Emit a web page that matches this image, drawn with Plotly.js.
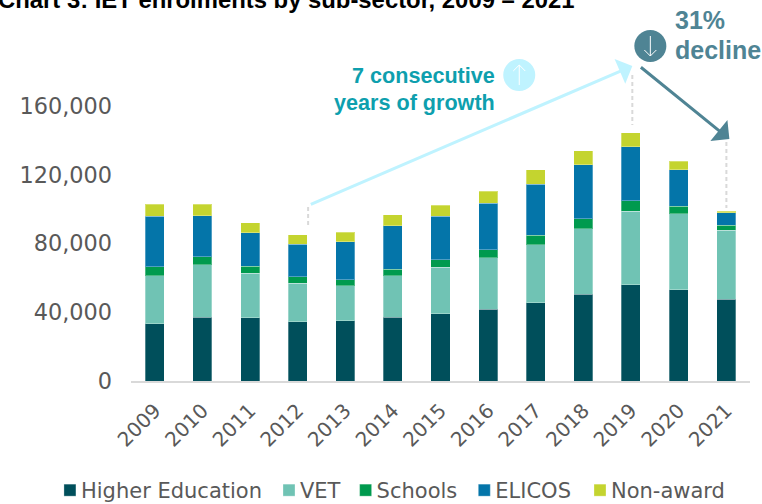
<!DOCTYPE html>
<html>
<head>
<meta charset="utf-8">
<script src="https://cdn.plot.ly/plotly-3.0.1.min.js"></script>
<style>html,body{margin:0;padding:0;background:#fff;overflow:hidden}</style>
</head>
<body>
<div id="chart" style="width:762px;height:504px"></div>
<script>
const years = ['2009','2010','2011','2012','2013','2014','2015','2016','2017','2018','2019','2020','2021'];
const higherEducation = [33200,37200,36700,34500,35000,37200,39000,41700,45400,50400,55900,53000,47700];
const vet = [28100,30300,26000,22500,20300,24100,27300,29900,33800,38100,43000,44400,40000];
const schools = [5200,4700,4000,3700,3700,3700,4300,4800,5600,6000,5900,4400,2900];
const elicos = [29500,24000,19600,19000,22100,25200,25400,27000,29800,31200,31500,21100,7200];
const nonAward = [6800,6600,5700,5300,5400,6400,6400,7000,8200,8300,8000,4900,1100];

const names = ['Higher Education','VET','Schools','ELICOS','Non-award'];
const series = [higherEducation, vet, schools, elicos, nonAward];
const colors = ['#004f5b','#70c3b4','#009a4e','#0475a9','#c4d42f'];

const W = 762, H = 504, L = 131, R = 12.4, T = 106, B = 123;
const px = x => (x - L) / (W - L - R);
const py = y => (H - B - y) / (H - T - B);

const traces = series.map((vals, i) => ({
  type: 'bar', name: names[i], x: years, y: vals,
  marker: {color: colors[i], line: {color: 'rgba(255,255,255,0.3)', width: 1}},
  hoverinfo: 'x+y+name'
}));

function dashed(x, y0, y1) {
  return {type:'line', xref:'paper', yref:'paper', x0:px(x), x1:px(x), y0:py(y0), y1:py(y1),
          line:{color:'#d9d9d9', width:2, dash:'4px,3px'}};
}
function circle(cx, cy, r, color) {
  return {type:'circle', xref:'paper', yref:'paper', x0:px(cx-r), x1:px(cx+r), y0:py(cy+r), y1:py(cy-r),
          fillcolor:color, line:{width:0}};
}
function glyph(cx, cy, dir) {
  const p = (x, y) => px(cx + x) + ' ' + py(cy + dir * y);
  return {type:'path', xref:'paper', yref:'paper',
          path:'M' + p(0,10) + ' L' + p(0,-10) + ' M' + p(-6,-4) + ' L' + p(0,-10) + ' L' + p(6,-4),
          line:{color:'#ffffff', width:1}};
}
function arrow(x0, y0, x1, y1, color) {
  return {xref:'paper', yref:'paper', x:px(x1), y:py(y1), ax:x0-x1, ay:y0-y1, text:'', showarrow:true,
          arrowhead:1, arrowsize:1.5, arrowwidth:3, arrowcolor:color, standoff:0, startstandoff:0};
}
function label(text, x, y, anchor, size, color) {
  return {xref:'paper', yref:'paper', x:px(x), y:py(y), text:'<b>'+text+'</b>', showarrow:false,
          xanchor:anchor, yanchor:'middle', align:anchor,
          font:{family:'Liberation Sans', size:size, color:color}};
}

const layout = {
  width: W, height: H, barmode: 'stack', bargap: 0.6,
  paper_bgcolor:'#fff', plot_bgcolor:'#fff',
  margin:{l:L, r:R, t:T, b:B, pad:0, autoexpand:false},
  title:{text:'<b>Chart 3: IET enrolments by sub-sector, 2009 – 2021</b>', xref:'container', yref:'container',
         x:0, xanchor:'left', y:1-8/504, yanchor:'bottom', pad:{l:-2,r:0,t:0,b:0},
         font:{family:'Liberation Sans', size:23.85, color:'#000'}},
  xaxis:{type:'category', tickangle:-45, showgrid:false, ticks:'', showline:true, linecolor:'#d9d9d9', linewidth:2,
         ticklabelstandoff:8, tickfont:{family:'DejaVu Sans', size:20, color:'#595959'}, zeroline:false},
  yaxis:{range:[0,160000], tickvals:[0,40000,80000,120000,160000], ticktext:['0','40,000','80,000','120,000','160,000'],
         showgrid:false, zeroline:false, showline:false, ticks:'', ticklabelstandoff:18,
         tickfont:{family:'DejaVu Sans', size:22.4, color:'#595959'}},
  showlegend:true,
  legend:{orientation:'h', traceorder:'normal', x:px(41), xanchor:'left', y:py(470), yanchor:'top',
          font:{family:'DejaVu Sans', size:21, color:'#595959'}, bgcolor:'rgba(0,0,0,0)'},
  shapes:[
    dashed(308,207,226), dashed(632,75,125), dashed(726,142,208),
    circle(519,75,16,'#bff3ff'), glyph(519,75,1),
    circle(650,46,16,'#4f8494'), glyph(650,46,-1)
  ],
  annotations:[
    arrow(309,205,632,66,'#bff3ff'),
    arrow(639,66,729,139,'#4f8494'),
    label('7 consecutive',497,76,'right',21.6,'#0e9fae'),
    label('years of growth',497,103,'right',21.6,'#0e9fae'),
    label('31%',673,20,'left',25,'#4f8494'),
    label('decline',673,50,'left',25,'#4f8494')
  ]
};
const legendShift = [0, -7, -16, -23, -28];
Plotly.newPlot('chart', traces, layout, {displayModeBar:false, responsive:false}).then(gd => {
  // tighten the legend: swatch closer to its label, entries closer together
  const items = gd.querySelectorAll('.legend .traces');
  items.forEach((item, i) => {
    const m = /translate\(([-\d.]+),\s*([-\d.]+)\)/.exec(item.getAttribute('transform') || '');
    if (m) item.setAttribute('transform', 'translate(' + (parseFloat(m[1]) + legendShift[i]) + ',' + m[2] + ')');
    const sym = item.querySelector('.legendsymbols');
    if (sym) sym.setAttribute('transform', 'translate(9,0)');
  });
});
</script>
</body>
</html>
